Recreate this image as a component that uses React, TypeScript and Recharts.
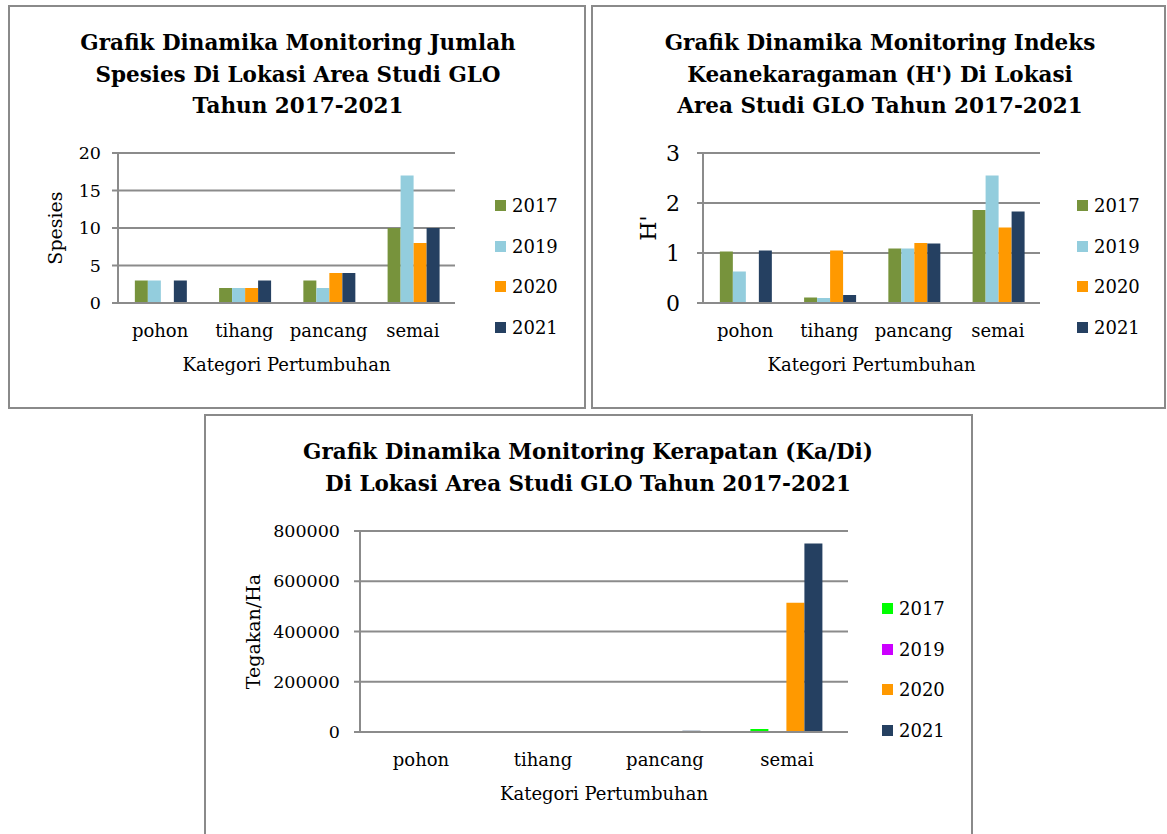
import { BarChart, Bar, XAxis, YAxis, CartesianGrid, Legend } from "recharts";

const categories = ["pohon", "tihang", "pancang", "semai"];
const years = ["2017", "2019", "2020", "2021"];

// Jumlah spesies
const spesies2017 = [3, 2, 3, 10];
const spesies2019 = [3, 2, 2, 17];
const spesies2020 = [0, 2, 4, 8];
const spesies2021 = [3, 3, 4, 10];

// Indeks keanekaragaman H'
const h2017 = [1.03, 0.11, 1.09, 1.86];
const h2019 = [0.63, 0.1, 1.09, 2.55];
const h2020 = [0, 1.05, 1.2, 1.51];
const h2021 = [1.05, 0.16, 1.19, 1.83];

// Kerapatan (tegakan/ha)
const kerapatan2017 = [0, 4000, 4000, 12000];
const kerapatan2019 = [0, 4000, 4000, 4000];
const kerapatan2020 = [0, 0, 4000, 514000];
const kerapatan2021 = [0, 0, 5000, 750000];

const ticksSpesies = [0, 5, 10, 15, 20];
const ticksH = [0, 1, 2, 3];
const ticksKerapatan = [0, 200000, 400000, 600000, 800000];

const colorsA = ["#77933c", "#93cddd", "#ff9900", "#254061"];
const colorsB = ["#00ff00", "#cc00ff", "#ff9900", "#254061"];

const GRID = "#8b8b8b";
const FONT = "'DejaVu Serif', serif";

function buildRows(series: number[][]) {
  return categories.map((name, i) => {
    const row: Record<string, string | number> = { name };
    years.forEach((y, j) => {
      row[y] = series[j][i];
    });
    return row;
  });
}

function YearLegend({ payload }: { payload?: any[] }) {
  return (
    <div style={{ fontFamily: FONT, fontSize: 18, color: "#000" }}>
      {(payload || []).map((p) => (
        <div key={p.value} style={{ height: 40.7, display: "flex", alignItems: "center" }}>
          <span style={{ display: "inline-block", width: 11, height: 11, background: p.color, marginRight: 6 }} />
          {p.value}
        </div>
      ))}
    </div>
  );
}

interface ChartCfg {
  left: number;
  top: number;
  width: number;
  height: number;
  margin: { top: number; right: number; bottom: number; left: number };
  yWidth: number;
  yLabel: string;
  yLabelOffset: number;
  yLabelSize: number;
  yTickSize: number;
  yTickMargin: number;
  data: Record<string, string | number>[];
  colors: string[];
  domain: [number, number];
  ticks: number[];
  legendLeft: number;
  legendTop: number;
}

function YearChart(c: ChartCfg) {
  return (
    <div style={{ position: "absolute", left: c.left, top: c.top }}>
      <BarChart width={c.width} height={c.height} data={c.data} margin={c.margin} barGap={0} barCategoryGap="20%">
        <CartesianGrid vertical={false} stroke={GRID} strokeWidth={2} />
        <XAxis
          dataKey="name"
          height={70}
          interval={0}
          tickLine={false}
          tickMargin={15}
          axisLine={{ stroke: GRID, strokeWidth: 2 }}
          tick={{ fill: "#000", fontSize: 18, fontFamily: FONT }}
          label={{ value: "Kategori Pertumbuhan", position: "insideBottom", offset: 2, fill: "#000", fontSize: 18, fontFamily: FONT }}
        />
        <YAxis
          width={c.yWidth}
          domain={c.domain}
          ticks={c.ticks}
          interval={0}
          tickSize={6}
          tickMargin={c.yTickMargin}
          tickLine={{ stroke: GRID, strokeWidth: 2 }}
          axisLine={{ stroke: GRID, strokeWidth: 2 }}
          tick={{ fill: "#000", fontSize: c.yTickSize, fontFamily: FONT }}
          label={{
            value: c.yLabel,
            angle: -90,
            position: "insideLeft",
            offset: c.yLabelOffset,
            fill: "#000",
            fontSize: c.yLabelSize,
            fontFamily: FONT,
            style: { textAnchor: "middle" },
          }}
        />
        <Legend
          layout="vertical"
          align="center"
          verticalAlign="middle"
          wrapperStyle={{ left: c.legendLeft, top: c.legendTop, width: "auto" }}
          content={(props: any) => <YearLegend payload={props.payload} />}
        />
        {years.map((y, i) => (
          <Bar key={y} dataKey={y} name={y} fill={c.colors[i]} isAnimationActive={false} />
        ))}
      </BarChart>
    </div>
  );
}

function Panel({ left, top, width, height }: { left: number; top: number; width: number; height: number }) {
  return (
    <div
      style={{
        position: "absolute",
        left,
        top,
        width,
        height,
        border: "2px solid #8a8a8a",
        boxSizing: "border-box",
      }}
    />
  );
}

function Title({ lines, cx, top }: { lines: string[]; cx: number; top: number }) {
  return (
    <div
      style={{
        position: "absolute",
        left: cx - 320,
        width: 640,
        top,
        textAlign: "center",
        fontFamily: FONT,
        fontWeight: "bold",
        fontSize: 21.5,
        lineHeight: "31.5px",
        color: "#000",
      }}
    >
      {lines.map((l) => (
        <div key={l}>{l}</div>
      ))}
    </div>
  );
}

export default function App() {
  return (
    <div
      style={{
        position: "fixed",
        left: 0,
        top: 0,
        width: 1167,
        height: 834,
        overflow: "hidden",
        background: "#fff",
      }}
    >
      <Panel left={8} top={5} width={578} height={404} />
      <Panel left={591} top={5} width={575} height={404} />
      <Panel left={204} top={414} width={769} height={440} />

      <Title
        lines={["Grafik Dinamika Monitoring Jumlah", "Spesies Di Lokasi Area Studi GLO", "Tahun 2017-2021"]}
        cx={298}
        top={27}
      />
      <Title
        lines={["Grafik Dinamika Monitoring Indeks", "Keanekaragaman (H') Di Lokasi", "Area Studi GLO Tahun 2017-2021"]}
        cx={880}
        top={27}
      />
      <Title
        lines={["Grafik Dinamika Monitoring Kerapatan (Ka/Di)", "Di Lokasi Area Studi GLO Tahun 2017-2021"]}
        cx={588}
        top={436}
      />

      <YearChart
        left={8}
        top={5}
        width={577}
        height={403}
        margin={{ top: 148, right: 130, bottom: 35, left: 40 }}
        yWidth={70}
        yLabel="Spesies"
        yLabelOffset={7}
        yLabelSize={19}
        yTickSize={17.5}
        yTickMargin={11}
        data={buildRows([spesies2017, spesies2019, spesies2020, spesies2021])}
        colors={colorsA}
        domain={[0, 20]}
        ticks={ticksSpesies}
        legendLeft={487}
        legendTop={180}
      />
      <YearChart
        left={592}
        top={5}
        width={575}
        height={403}
        margin={{ top: 148, right: 127, bottom: 35, left: 40 }}
        yWidth={71}
        yLabel="H'"
        yLabelOffset={16}
        yLabelSize={22}
        yTickSize={22}
        yTickMargin={17}
        data={buildRows([h2017, h2019, h2020, h2021])}
        colors={colorsA}
        domain={[0, 3]}
        ticks={ticksH}
        legendLeft={485}
        legendTop={180}
      />
      <YearChart
        left={205}
        top={415}
        width={767}
        height={419}
        margin={{ top: 116, right: 124, bottom: 32, left: 40 }}
        yWidth={115}
        yLabel="Tegakan/Ha"
        yLabelOffset={8}
        yLabelSize={19}
        yTickSize={17.5}
        yTickMargin={14}
        data={buildRows([kerapatan2017, kerapatan2019, kerapatan2020, kerapatan2021])}
        colors={colorsB}
        domain={[0, 800000]}
        ticks={ticksKerapatan}
        legendLeft={677}
        legendTop={173}
      />
    </div>
  );
}
